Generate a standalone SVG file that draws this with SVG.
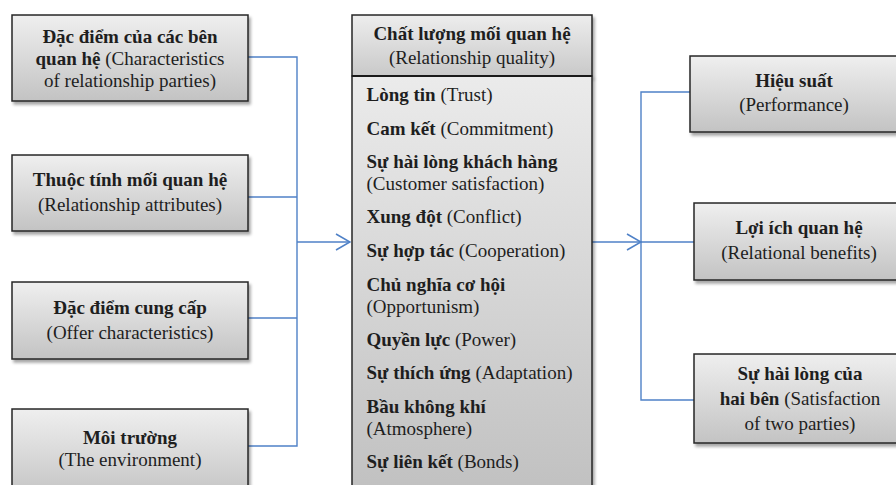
<svg xmlns="http://www.w3.org/2000/svg" width="896" height="485" viewBox="0 0 896 485">
  <defs>
    <linearGradient id="boxFill" x1="0" y1="0" x2="0" y2="1">
      <stop offset="0" stop-color="#efefef"/>
      <stop offset="1" stop-color="#c3c3c3"/>
    </linearGradient>
    <linearGradient id="headFill" x1="0" y1="0" x2="0" y2="1">
      <stop offset="0" stop-color="#ededed"/>
      <stop offset="1" stop-color="#c9c9c9"/>
    </linearGradient>
    <linearGradient id="bodyFill" x1="0" y1="0" x2="0" y2="1">
      <stop offset="0" stop-color="#ebebeb"/>
      <stop offset="1" stop-color="#c0c0c0"/>
    </linearGradient>
    <filter id="shadow" x="-10%" y="-10%" width="130%" height="130%">
      <feDropShadow dx="2" dy="3" stdDeviation="1.5" flood-color="#000" flood-opacity="0.35"/>
    </filter>
    <marker id="chev" viewBox="0 0 16 18" refX="15" refY="9" markerWidth="16" markerHeight="18" markerUnits="userSpaceOnUse" orient="auto">
      <path d="M1,1 L15,9 L1,17" fill="none" stroke="#4f81c7" stroke-width="1.6"/>
    </marker>
    <style>
      .box { fill: url(#boxFill); stroke: #262626; stroke-width: 1.5; filter: url(#shadow); }
      text { font-family: 'Liberation Serif', 'DejaVu Serif', serif; font-size: 19px; fill: #1e1e1e; }
      .c { text-anchor: middle; }
      .b { font-weight: bold; }
      .wire { fill: none; stroke: #4f81c7; stroke-width: 1.4; }
    </style>
  </defs>

  <!-- connectors -->
  <g id="connectors">
    <path class="wire" d="M248,57 H297 V446 H248"/>
    <path class="wire" d="M248,197 H297"/>
    <path class="wire" d="M248,318 H297"/>
    <path class="wire" d="M297,242 H350" marker-end="url(#chev)"/>
    <path class="wire" d="M592,242 H641" marker-end="url(#chev)"/>
    <path class="wire" d="M690,92 H641 V400 H694"/>
    <path class="wire" d="M641,242 H694"/>
  </g>

  <!-- antecedents -->
  <g id="node-parties">
    <rect class="box" x="12" y="15" width="236" height="86"/>
    <text class="c b" x="130" y="43">Đặc điểm của các bên</text>
    <text class="c" x="130" y="64.5"><tspan class="b">quan hệ</tspan> (Characteristics</text>
    <text class="c" x="130" y="87">of relationship parties)</text>
  </g>
  <g id="node-attributes">
    <rect class="box" x="12" y="155" width="236" height="76"/>
    <text class="c b" x="130" y="186">Thuộc tính mối quan hệ</text>
    <text class="c" x="130" y="211">(Relationship attributes)</text>
  </g>
  <g id="node-offer">
    <rect class="box" x="12" y="282" width="236" height="77"/>
    <text class="c b" x="130" y="313.5">Đặc điểm cung cấp</text>
    <text class="c" x="130" y="338.5">(Offer characteristics)</text>
  </g>
  <g id="node-environment">
    <rect class="box" x="12" y="409" width="236" height="90"/>
    <text class="c b" x="130" y="443.5">Môi trường</text>
    <text class="c" x="130" y="466">(The environment)</text>
  </g>

  <!-- relationship quality -->
  <g id="node-quality">
    <rect x="352" y="15" width="240" height="61" fill="url(#headFill)" stroke="#262626" stroke-width="1.5" filter="url(#shadow)"/>
    <rect x="352" y="76" width="240" height="424" fill="url(#bodyFill)" stroke="#262626" stroke-width="1.5" filter="url(#shadow)"/>
    <line x1="352" y1="76" x2="592" y2="76" stroke="#1a1a1a" stroke-width="2"/>
    <text class="c b" x="472" y="39.5">Chất lượng mối quan hệ</text>
    <text class="c" x="472" y="63.5">(Relationship quality)</text>
    <text x="366.5" y="101"><tspan class="b">Lòng tin</tspan> (Trust)</text>
    <text x="366.5" y="134.5"><tspan class="b">Cam kết</tspan> (Commitment)</text>
    <text class="b" x="366.5" y="168">Sự hài lòng khách hàng</text>
    <text x="366.5" y="190">(Customer satisfaction)</text>
    <text x="366.5" y="223"><tspan class="b">Xung đột</tspan> (Conflict)</text>
    <text x="366.5" y="256.5"><tspan class="b">Sự hợp tác</tspan> (Cooperation)</text>
    <text class="b" x="366.5" y="290.5">Chủ nghĩa cơ hội</text>
    <text x="366.5" y="312.5">(Opportunism)</text>
    <text x="366.5" y="346"><tspan class="b">Quyền lực</tspan> (Power)</text>
    <text x="366.5" y="379"><tspan class="b">Sự thích ứng</tspan> (Adaptation)</text>
    <text class="b" x="366.5" y="412.5">Bầu không khí</text>
    <text x="366.5" y="434.5">(Atmosphere)</text>
    <text x="366.5" y="467.5"><tspan class="b">Sự liên kết</tspan> (Bonds)</text>
  </g>

  <!-- outcomes -->
  <g id="node-performance">
    <rect class="box" x="690" y="56" width="220" height="76"/>
    <text class="c b" x="794" y="86.5">Hiệu suất</text>
    <text class="c" x="794" y="110.5">(Performance)</text>
  </g>
  <g id="node-benefits">
    <rect class="box" x="694" y="203" width="220" height="77"/>
    <text class="c b" x="799" y="234">Lợi ích quan hệ</text>
    <text class="c" x="799" y="259">(Relational benefits)</text>
  </g>
  <g id="node-satisfaction">
    <rect class="box" x="694" y="354" width="220" height="89"/>
    <text class="c b" x="800" y="380">Sự hài lòng của</text>
    <text class="c" x="800" y="405"><tspan class="b">hai bên</tspan> (Satisfaction</text>
    <text class="c" x="800" y="430">of two parties)</text>
  </g>
</svg>
